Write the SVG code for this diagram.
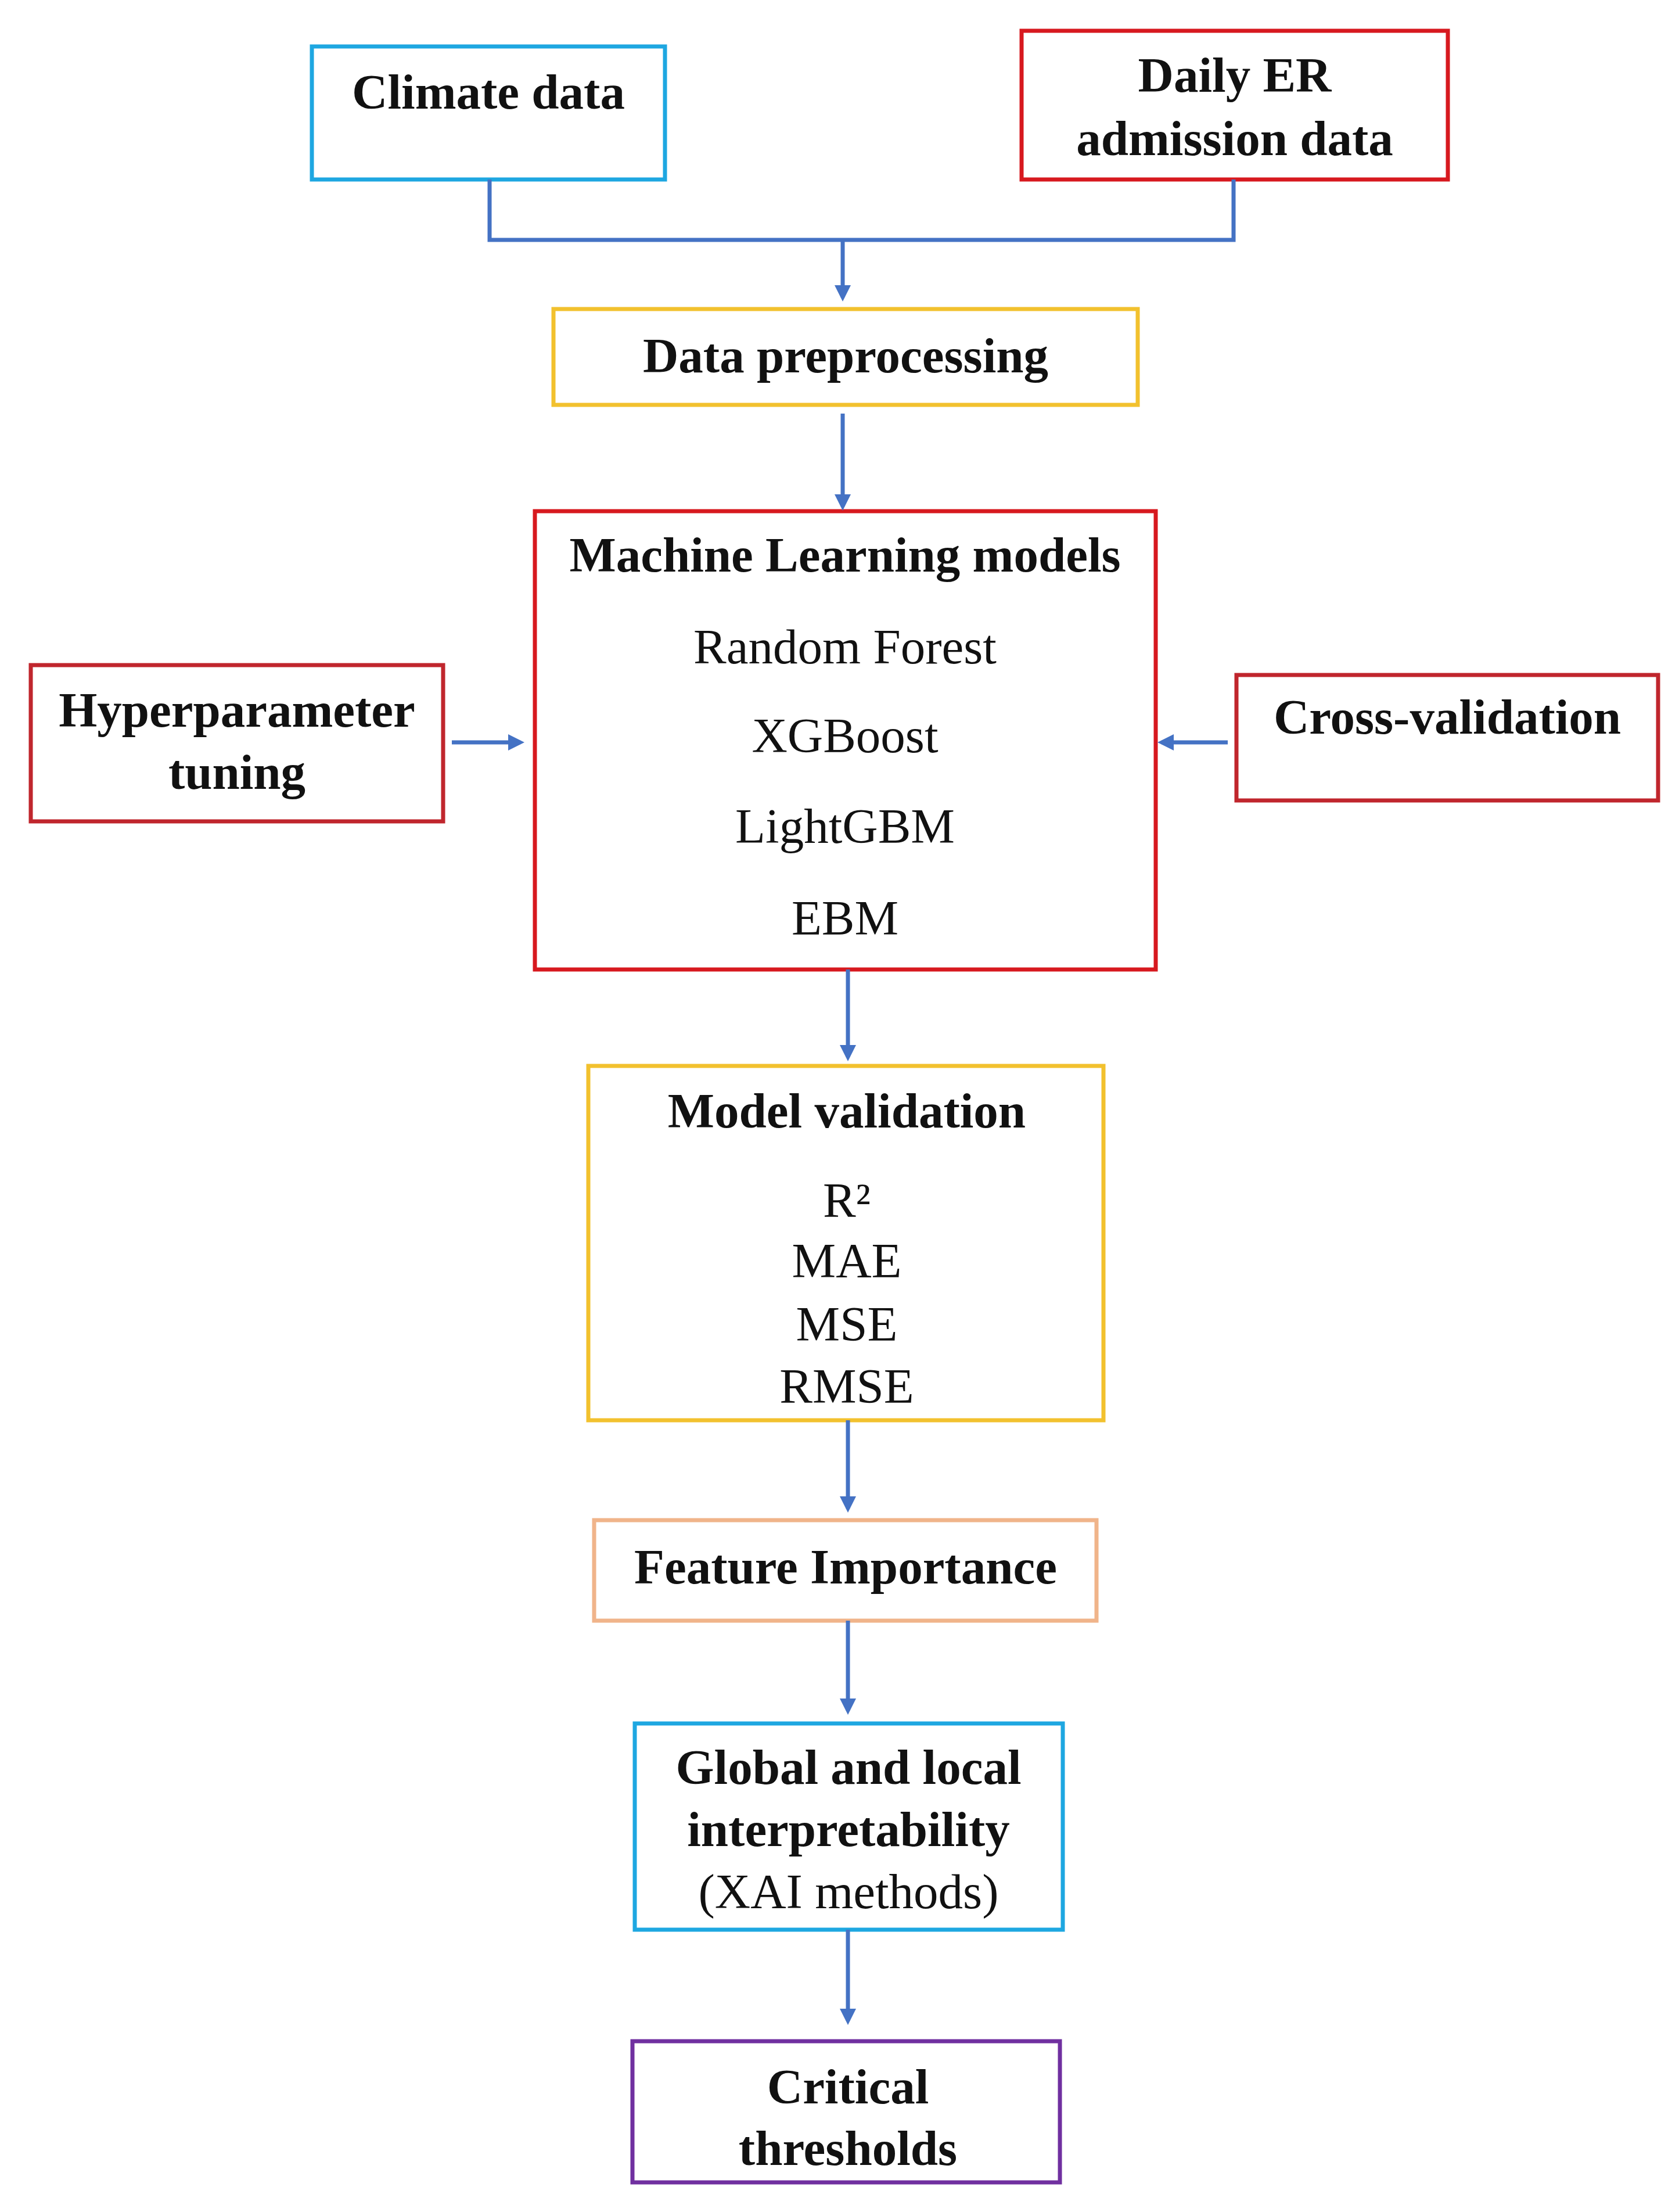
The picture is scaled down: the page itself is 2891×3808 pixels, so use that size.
<svg xmlns="http://www.w3.org/2000/svg" width="2891" height="3808" viewBox="0 0 2891 3808">
<style>
.b{fill:#fff;stroke-width:7}
.t{font-family:"Liberation Serif",serif;font-size:85px;fill:#111;text-anchor:middle}
.h{font-weight:bold}
.c{stroke:#4472c4;stroke-width:7;fill:none}
</style>
<defs><marker id="a" markerWidth="4" markerHeight="4" refX="3" refY="2" orient="auto"><path d="M0,0 L4,2 L0,4 Z" fill="#4472c4"/></marker></defs>
<rect width="2891" height="3808" fill="#fff"/>
<g id="climate"><rect class="b" x="537" y="80" width="608" height="229" stroke="#1ea7e1"/><text class="t h" x="841" y="187">Climate data</text></g>
<g id="er"><rect class="b" x="1759" y="53" width="734" height="256" stroke="#d7191f"/><text class="t h" x="2126" y="158">Daily ER</text><text class="t h" x="2126" y="267">admission data</text></g>
<g id="prep"><rect class="b" x="953" y="532" width="1006" height="165" stroke="#f2c12e"/><text class="t h" x="1456" y="641">Data preprocessing</text></g>
<g id="ml"><rect class="b" x="921" y="880" width="1069" height="789" stroke="#d7191f"/><text class="t h" x="1455" y="984">Machine Learning models</text><text class="t" x="1455" y="1142">Random Forest</text><text class="t" x="1455" y="1295">XGBoost</text><text class="t" x="1455" y="1451">LightGBM</text><text class="t" x="1455" y="1609">EBM</text></g>
<g id="hyper"><rect class="b" x="53" y="1145" width="710" height="269" stroke="#c0262d"/><text class="t h" x="408" y="1251">Hyperparameter</text><text class="t h" x="408" y="1358">tuning</text></g>
<g id="cv"><rect class="b" x="2129" y="1162" width="726" height="216" stroke="#c0262d"/><text class="t h" x="2492" y="1263">Cross-validation</text></g>
<g id="mv"><rect class="b" x="1013" y="1835" width="887" height="610" stroke="#f2c12e"/><text class="t h" x="1458" y="1941">Model validation</text><text class="t" x="1458" y="2095">R²</text><text class="t" x="1458" y="2199">MAE</text><text class="t" x="1458" y="2308">MSE</text><text class="t" x="1458" y="2415">RMSE</text></g>
<g id="fi"><rect class="b" x="1023" y="2617" width="865" height="173" stroke="#f0b48a"/><text class="t h" x="1456" y="2726">Feature Importance</text></g>
<g id="xai"><rect class="b" x="1093" y="2967" width="737" height="355" stroke="#1ea7e1"/><text class="t h" x="1461" y="3071">Global and local</text><text class="t h" x="1461" y="3178">interpretability</text><text class="t" x="1461" y="3285">(XAI methods)</text></g>
<g id="ct"><rect class="b" x="1089" y="3514" width="736" height="243" stroke="#7030a0"/><text class="t h" x="1460" y="3621">Critical</text><text class="t h" x="1460" y="3727">thresholds</text></g>
<g id="connectors">
<path class="c" d="M843,309 V413 H2124 V309"/>
<path class="c" d="M1451,413 V512" marker-end="url(#a)"/>
<path class="c" d="M1451,712 V872" marker-end="url(#a)"/>
<path class="c" d="M778,1278 H896" marker-end="url(#a)"/>
<path class="c" d="M2114,1278 H2000" marker-end="url(#a)"/>
<path class="c" d="M1460,1669 V1820" marker-end="url(#a)"/>
<path class="c" d="M1460,2445 V2597" marker-end="url(#a)"/>
<path class="c" d="M1460,2790 V2945" marker-end="url(#a)"/>
<path class="c" d="M1460,3322 V3479" marker-end="url(#a)"/>
</g>
</svg>
